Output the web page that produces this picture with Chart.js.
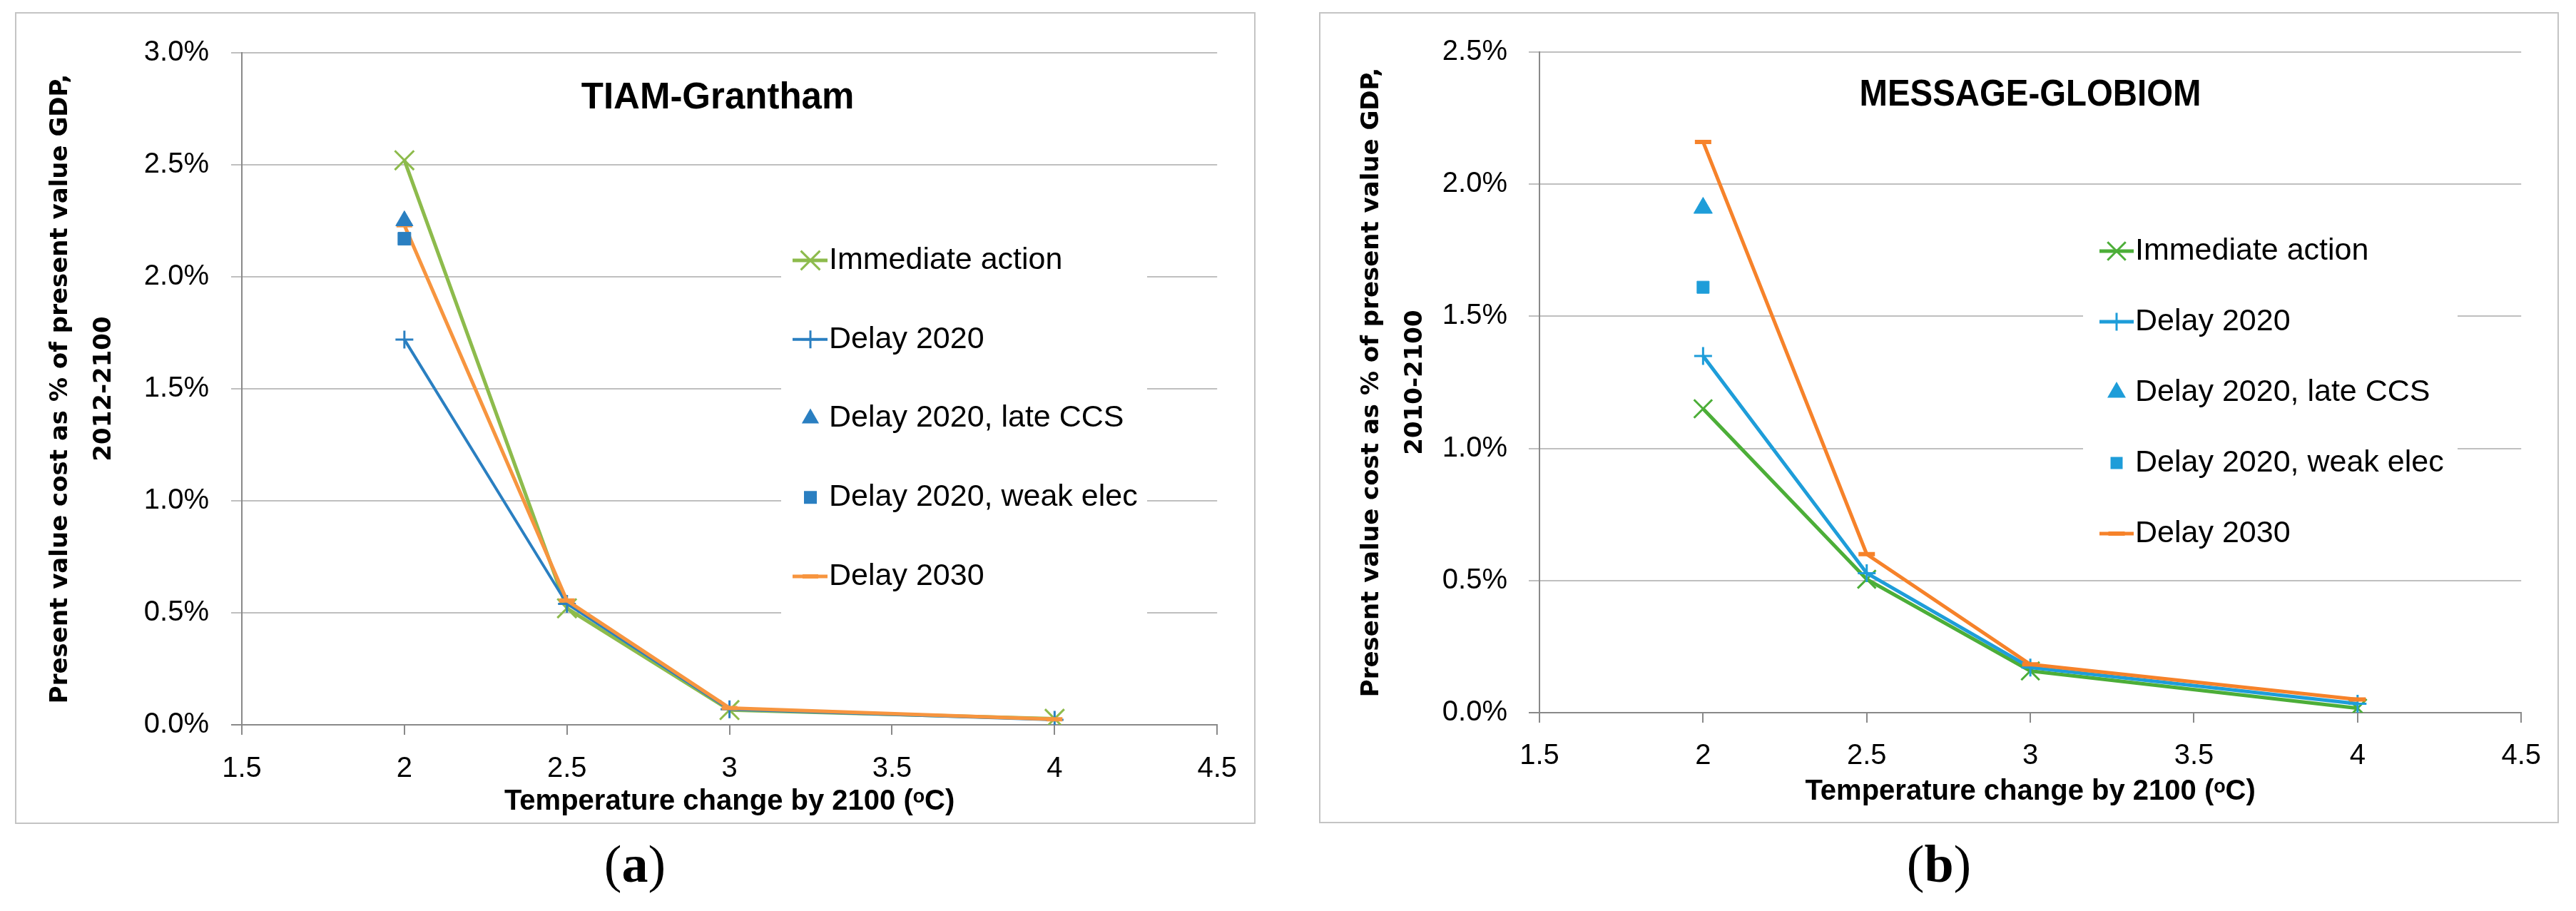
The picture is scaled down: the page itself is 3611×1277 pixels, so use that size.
<!DOCTYPE html>
<html>
<head>
<meta charset="utf-8">
<script src="https://cdn.jsdelivr.net/npm/chart.js@4.4.1/dist/chart.umd.min.js"></script>
<style>
  html, body { margin: 0; padding: 0; background: #ffffff; }
  body { width: 3611px; height: 1277px; position: relative; overflow: hidden; }
  .box { position: absolute; border: 2px solid #c4c4c4; background: #fff; }
  .box canvas { display: block; }
  .cap { position: absolute; width: 200px; text-align: center; font-family: 'Liberation Serif', 'DejaVu Serif', serif; font-size: 74px; line-height: 74px; color: #000; }
  .cap b { font-weight: bold; }
</style>
</head>
<body>
<div class="box" id="boxA" style="left:21px; top:17px;"><canvas id="chartA" width="1735" height="1134" style="width:1735px;height:1134px"></canvas></div>
<div class="box" id="boxB" style="left:1849px; top:17px;"><canvas id="chartB" width="1734" height="1133" style="width:1734px;height:1133px"></canvas></div>
<div class="cap" style="left:790px; top:1174px;">(<b>a</b>)</div>
<div class="cap" style="left:2618px; top:1174px;">(<b>b</b>)</div>
<script>
// ---------------- DATA ----------------
const temps = [2, 2.5, 3, 4];          // Temperature change by 2100 (oC)
const tempLone = [2];                  // sensitivity runs only at 2 oC
const xTickValues = [1.5, 2, 2.5, 3, 3.5, 4, 4.5];

const seriesLabels = ['Immediate action', 'Delay 2020', 'Delay 2020, late CCS', 'Delay 2020, weak elec', 'Delay 2030'];

// (a) TIAM-Grantham, % of present value GDP 2012-2100
const titleA = 'TIAM-Grantham';
const yTitleA = ['Present value cost as % of present value GDP,', '2012-2100'];
const yTicksA = [0, 0.5, 1.0, 1.5, 2.0, 2.5, 3.0];
const immediateA = [2.52, 0.52, 0.066, 0.027];
const delay2020A = [1.72, 0.54, 0.069, 0.022];
const lateCcsA   = [2.25];
const weakElecA  = [2.17];
const delay2030A = [2.23, 0.555, 0.075, 0.025];

// (b) MESSAGE-GLOBIOM, % of present value GDP 2010-2100
const titleB = 'MESSAGE-GLOBIOM';
const yTitleB = ['Present value cost as % of present value GDP,', '2010-2100'];
const yTicksB = [0, 0.5, 1.0, 1.5, 2.0, 2.5];
const immediateB = [1.15, 0.505, 0.158, 0.017];
const delay2020B = [1.35, 0.528, 0.171, 0.034];
const lateCcsB   = [1.91];
const weakElecB  = [1.61];
const delay2030B = [2.16, 0.60, 0.183, 0.05];

const xTitle = 'Temperature change by 2100 (\u1D52C)';

// ---------------- STYLE ----------------
const SANS = "'Liberation Sans', Arial, 'DejaVu Sans', sans-serif";
const VERD = "'DejaVu Sans', Verdana, sans-serif";
const GRID = '#bfbfbf';
const AXIS = '#898989';

const colorsA = { green: '#8dbb4c', blue: '#2a7fc1', orange: '#f7953f' };
const colorsB = { green: '#4cae38', blue: '#1e9dd9', orange: '#f6822a' };

function pts(xs, ys) { return ys.map((v, i) => ({ x: xs[i], y: v })); }

function drawMarker(ctx, style, r, x, y, color, bw) {
  ctx.save();
  ctx.strokeStyle = color; ctx.fillStyle = color; ctx.lineWidth = bw;
  ctx.beginPath();
  if (style === 'crossRot') {
    const o = r * Math.SQRT1_2;
    ctx.moveTo(x - o, y - o); ctx.lineTo(x + o, y + o);
    ctx.moveTo(x - o, y + o); ctx.lineTo(x + o, y - o);
    ctx.stroke();
  } else if (style === 'cross') {
    ctx.moveTo(x - r, y); ctx.lineTo(x + r, y);
    ctx.moveTo(x, y - r); ctx.lineTo(x, y + r);
    ctx.stroke();
  } else if (style === 'triangle') {
    ctx.moveTo(x, y - r);
    ctx.lineTo(x + r * 0.866, y + r * 0.5);
    ctx.lineTo(x - r * 0.866, y + r * 0.5);
    ctx.closePath(); ctx.fill();
  } else if (style === 'rect') {
    const s = r * Math.SQRT1_2;
    ctx.rect(x - s, y - s, 2 * s, 2 * s); ctx.fill();
  } else if (style === 'line') {
    ctx.moveTo(x - r, y); ctx.lineTo(x + r, y); ctx.stroke();
  }
  ctx.restore();
}

const excelLegend = {
  id: 'excelLegend',
  afterDraw(chart, args, o) {
    const ctx = chart.ctx;
    ctx.save();
    ctx.fillStyle = '#ffffff';
    ctx.fillRect(o.boxX, o.boxY, o.boxW, o.boxH);
    chart.data.datasets.forEach((ds, i) => {
      const y = o.rowY0 + i * o.rowStep;
      if (ds.showLine !== false) {
        ctx.strokeStyle = ds.borderColor; ctx.lineWidth = ds.borderWidth; ctx.lineCap = 'butt';
        ctx.beginPath(); ctx.moveTo(o.lineX0, y); ctx.lineTo(o.lineX1, y); ctx.stroke();
      }
      drawMarker(ctx, ds.pointStyle, ds.pointRadius, o.markerX, y, ds.borderColor, ds.pointBorderWidth);
      ctx.fillStyle = '#000';
      ctx.font = '43px ' + SANS;
      ctx.textAlign = 'left'; ctx.textBaseline = 'middle';
      ctx.fillText(ds.label, o.textX, y);
    });
    ctx.restore();
  }
};

const innerTitle = {
  id: 'innerTitle',
  afterDraw(chart, args, o) {
    const ctx = chart.ctx;
    ctx.save();
    ctx.fillStyle = '#000';
    ctx.font = 'bold 51px ' + SANS;
    ctx.textAlign = 'center'; ctx.textBaseline = 'middle';
    ctx.fillText(o.text, o.x, o.y, o.maxWidth);
    ctx.restore();
  }
};

function makeDatasets(c, imm, d20, late, weak, d30, lw) {
  return [
    { label: seriesLabels[0], data: pts(temps, imm), borderColor: c.green, backgroundColor: c.green,
      borderWidth: lw.green, pointStyle: 'crossRot', pointRadius: lw.xR, pointBorderWidth: 3,
      pointBorderColor: c.green, pointBackgroundColor: c.green, order: 5 },
    { label: seriesLabels[1], data: pts(temps, d20), borderColor: c.blue, backgroundColor: c.blue,
      borderWidth: lw.blue, pointStyle: 'cross', pointRadius: lw.plusR, pointBorderWidth: 3,
      pointBorderColor: c.blue, pointBackgroundColor: c.blue, order: 4 },
    { label: seriesLabels[2], data: pts(tempLone, late), borderColor: c.blue, backgroundColor: c.blue,
      showLine: false, borderWidth: 0, pointStyle: 'triangle', pointRadius: lw.triR, pointBorderWidth: 1,
      pointBorderColor: c.blue, pointBackgroundColor: c.blue, order: 1 },
    { label: seriesLabels[3], data: pts(tempLone, weak), borderColor: c.blue, backgroundColor: c.blue,
      showLine: false, borderWidth: 0, pointStyle: 'rect', pointRadius: lw.rectR, pointBorderWidth: 1,
      pointBorderColor: c.blue, pointBackgroundColor: c.blue, order: 2 },
    { label: seriesLabels[4], data: pts(temps, d30), borderColor: c.orange, backgroundColor: c.orange,
      borderWidth: lw.orange, pointStyle: 'line', pointRadius: lw.dashR, pointBorderWidth: 6,
      pointBorderColor: c.orange, pointBackgroundColor: c.orange, order: 3 }
  ];
}

function makeChart(id, g, title, yTitle, yTicks, datasets) {
  const W = g.W, H = g.H;
  const yMax = yTicks[yTicks.length - 1];
  return new Chart(document.getElementById(id), {
    type: 'line',
    data: { datasets },
    plugins: [excelLegend, innerTitle],
    options: {
      responsive: false, animation: false, devicePixelRatio: 1, events: [],
      layout: { padding: { left: 0, top: g.top, right: W - g.right, bottom: 0 } },
      elements: { line: { tension: 0 }, point: { hitRadius: 0, hoverRadius: 0 } },
      plugins: {
        legend: { display: false }, tooltip: { enabled: false }, title: { display: false },
        innerTitle: { text: title, x: g.titleX, y: g.titleY, maxWidth: g.titleW },
        excelLegend: g.legend
      },
      scales: {
        x: {
          type: 'linear', min: xTickValues[0], max: xTickValues[xTickValues.length - 1],
          afterBuildTicks: (s) => { s.ticks = xTickValues.map(v => ({ value: v })); },
          ticks: { callback: (v) => String(v), font: { family: SANS, size: 40 }, color: '#000', padding: g.xTickPad, maxRotation: 0, autoSkip: false },
          grid: { drawOnChartArea: false, drawTicks: true, tickLength: 14, tickColor: AXIS, lineWidth: 2, color: AXIS },
          border: { color: AXIS, width: 2 },
          title: { display: true, text: xTitle, color: '#000',
                   font: { family: SANS, weight: 'bold', size: 40 }, padding: { top: 0, bottom: g.xTitlePad } },
          afterFit: (s) => { s.height = H - g.bottom; }
        },
        y: {
          min: 0, max: yMax,
          afterBuildTicks: (s) => { s.ticks = yTicks.map(v => ({ value: v })); },
          ticks: { callback: (v) => Number(v).toFixed(1) + '%', font: { family: SANS, size: 40 }, color: '#000', padding: g.yTickPad, autoSkip: false },
          grid: { lineWidth: 2, tickLength: 15,
                  color: (c) => (c.tick && c.tick.value === 0) ? 'rgba(0,0,0,0)' : GRID,
                  tickColor: (c) => (c.tick && c.tick.value === 0) ? AXIS : GRID },
          border: { color: AXIS, width: 2 },
          title: { display: true, text: yTitle, color: '#000',
                   font: { family: VERD, weight: 'bold', size: 34, lineHeight: '61px' },
                   padding: { top: g.yTitlePad, bottom: 0 } },
          afterFit: (s) => { s.width = g.left; }
        }
      }
    }
  });
}

const geoA = {
  W: 1735, H: 1134, left: 316, top: 35, right: 1684, bottom: 997,
  yTickPad: 31, xTickPad: 24, xTitlePad: 5, yTitlePad: 31.5,
  titleX: 983, titleY: 119, titleW: 384,
  legend: { boxX: 1072, boxY: 285, boxW: 513, boxH: 580,
            lineX0: 1088, lineX1: 1137, markerX: 1113, textX: 1139, rowY0: 346, rowStep: 110.75 }
};
const geoB = {
  W: 1734, H: 1133, left: 307, top: 35, right: 1687, bottom: 980,
  yTickPad: 30, xTickPad: 23, xTitlePad: 18, yTitlePad: 41.5,
  titleX: 995, titleY: 115, titleW: 479,
  legend: { boxX: 1069, boxY: 275, boxW: 525, boxH: 510,
            lineX0: 1092, lineX1: 1140, markerX: 1116, textX: 1142, rowY0: 333, rowStep: 99 }
};

makeChart('chartA', geoA, titleA, yTitleA, yTicksA,
  makeDatasets(colorsA, immediateA, delay2020A, lateCcsA, weakElecA, delay2030A,
               { green: 5, blue: 4, orange: 5, xR: 19, plusR: 12.5, triR: 14, rectR: 12.7, dashR: 11 }));
makeChart('chartB', geoB, titleB, yTitleB, yTicksB,
  makeDatasets(colorsB, immediateB, delay2020B, lateCcsB, weakElecB, delay2030B,
               { green: 5, blue: 5, orange: 5, xR: 18, plusR: 12.5, triR: 15, rectR: 12, dashR: 11.5 }));
</script>
</body>
</html>
